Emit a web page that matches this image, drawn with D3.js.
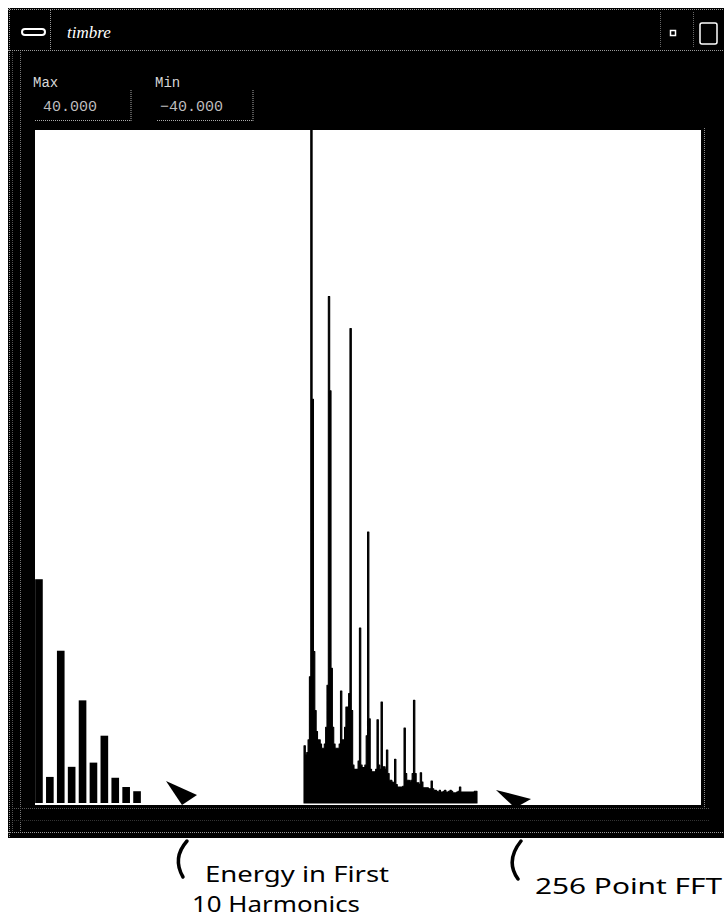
<!DOCTYPE html>
<html>
<head>
<meta charset="utf-8">
<script src="https://cdn.jsdelivr.net/npm/d3@7"></script>
<style>
  html, body { margin:0; padding:0; background:#fff; }
  svg { display:block; }
</style>
</head>
<body>
<svg id="chart" width="724" height="919"></svg>
<script>
// window title and range fields
var windowTitle = "timbre";
var rangeLabels = ["Max", "Min"];
var rangeValues = [40, -40];

// energy in the first 10 harmonics (dB)
var harmonics = [-13.4, -36.9, -21.9, -35.7, -27.8, -35.2, -32.0, -37.0, -38.1, -38.6];

// 256 point FFT, 128 magnitude bins (dB)
var fftBins = [
  -33.2, -34.3, -34.0, -32.5, -25.0, 45.0, 8.0, -22.0,
  -29.0, -31.5, -32.5, -32.5, -33.0, -33.5, -33.5, -33.0,
  -31.0, -26.0, 20.2, 9.0, -24.0, -31.0, -33.0, -33.5,
  -33.5, -33.5, -33.0, -26.7, -32.5, -32.5, -31.0, -28.6,
  -28.6, -27.0, 16.4, -29.0, -35.5, -36.0, -36.0, -36.0,
  -35.0, -19.2, -35.5, -35.8, -35.8, -35.5, -32.0, -7.8,
  -30.0, -36.0, -36.3, -36.3, -36.3, -36.0, -30.1, -35.5,
  -36.0, -28.0, -35.7, -35.7, -36.0, -33.7, -36.5, -37.3,
  -37.3, -37.5, -37.6, -34.8, -37.8, -38.1, -38.1, -38.1,
  -38.1, -38.0, -31.1, -36.5, -37.3, -37.3, -37.5, -37.3,
  -36.5, -27.8, -36.5, -37.6, -37.6, -37.8, -36.4, -37.5,
  -38.2, -38.2, -38.2, -38.2, -38.3, -38.3, -37.4, -38.3,
  -38.5, -38.5, -38.6, -38.7, -38.5, -38.7, -38.7, -38.6,
  -38.5, -38.7, -38.7, -38.6, -38.5, -38.6, -38.8, -38.8,
  -38.8, -38.7, -38.6, -38.1, -38.7, -38.7, -38.7, -38.7,
  -38.7, -38.7, -38.7, -38.7, -38.7, -38.7, -38.6, -38.6
];

// annotations under the window
var notes = [
  {lines: ["Energy in First", "10 Harmonics"]},
  {lines: ["256 Point FFT"]}
];

var svg = d3.select('#chart');

var win = {left:8, top:8, right:730, bottom:838};
var plot = {left:35, top:130, right:701, bottom:805};

// window frame
svg.append("rect")
    .attr("x", win.left).attr("y", win.top)
    .attr("width", win.right - win.left).attr("height", win.bottom - win.top)
    .attr("fill", "#000");

var dotted = function(x1, y1, x2, y2, col) {
    svg.append("line")
        .attr("x1", x1).attr("y1", y1).attr("x2", x2).attr("y2", y2)
        .attr("stroke", col || "#9a9a9a")
        .attr("stroke-width", 1)
        .attr("stroke-dasharray", "1,1");
};
dotted(win.left, 9.5, win.right, 9.5);
dotted(win.left, 50.5, win.right, 50.5);
dotted(9.5, win.top, 9.5, win.bottom);
dotted(12.5, 52, 12.5, 832, "#555");
dotted(20.5, 52, 20.5, 832, "#777");
dotted(win.left, 832.5, win.right, 832.5);
dotted(14, 808.5, 710, 808.5, "#555");
dotted(14, 820.5, 710, 820.5, "#333");
dotted(704.5, 128, 704.5, 808, "#888");
dotted(50.5, 10, 50.5, 50);
dotted(660.5, 12, 660.5, 48, "#666");
dotted(693.5, 12, 693.5, 48, "#666");

// title bar
svg.append("rect")
    .attr("x", 22).attr("y", 29).attr("width", 23).attr("height", 6)
    .attr("rx", 3)
    .attr("fill", "none").attr("stroke", "#fff").attr("stroke-width", 2);

svg.append("text")
    .attr("x", 67).attr("y", 38)
    .attr("fill", "#fff")
    .style("font-family", "'Liberation Serif', serif")
    .style("font-style", "italic")
    .style("font-size", "17px")
    .text(windowTitle);

svg.append("rect")
    .attr("x", 670.5).attr("y", 30.5).attr("width", 5).attr("height", 5)
    .attr("fill", "none").attr("stroke", "#fff").attr("stroke-width", 1.5);
svg.append("rect")
    .attr("x", 700).attr("y", 23).attr("width", 17).attr("height", 21)
    .attr("rx", 2)
    .attr("fill", "none").attr("stroke", "#fff").attr("stroke-width", 1.5);

// Max / Min fields
var fmt = d3.format(".3f");
var fieldX = [35, 157];
rangeLabels.forEach(function(lab, i) {
    svg.append("text")
        .attr("x", fieldX[i] - 2).attr("y", 87)
        .attr("fill", "#d8d8d8")
        .style("font-family", "'Liberation Mono', monospace")
        .style("font-size", "14px")
        .text(lab);
    dotted(fieldX[i] + 96, 90, fieldX[i] + 96, 121, "#aaa");
    dotted(fieldX[i], 120.5, fieldX[i] + 96, 120.5, "#aaa");
    svg.append("text")
        .attr("x", fieldX[i] + (i == 0 ? 8 : 3)).attr("y", 111)
        .attr("fill", "#bdbdbd")
        .style("font-family", "'Liberation Mono', monospace")
        .style("font-size", "15px")
        .text(fmt(rangeValues[i]));
});

// plot area
svg.append("rect")
    .attr("x", plot.left).attr("y", plot.top)
    .attr("width", plot.right - plot.left).attr("height", plot.bottom - plot.top)
    .attr("fill", "#fff");

svg.append("clipPath").attr("id", "clip")
    .append("rect")
    .attr("x", plot.left).attr("y", plot.top)
    .attr("width", plot.right - plot.left).attr("height", plot.bottom - plot.top);

var yScale = d3.scaleLinear()
    .domain([rangeValues[1], rangeValues[0]])
    .range([803, plot.top]);

var g = svg.append("g").attr("clip-path", "url(#clip)");

// harmonic bars
var hScale = d3.scaleBand()
    .domain(d3.range(harmonics.length))
    .range([33.5, 142.5])
    .paddingInner(0.3)
    .paddingOuter(0.15);

g.selectAll(".harm")
    .data(harmonics)
    .enter().append("rect")
    .attr("class", "harm")
    .attr("x", function(d, i) { return hScale(i); })
    .attr("width", hScale.bandwidth())
    .attr("y", function(d) { return yScale(d); })
    .attr("height", function(d) { return yScale(rangeValues[1]) - yScale(d); })
    .attr("fill", "#000");

// FFT spectrum
var fScale = d3.scaleLinear()
    .domain([0, fftBins.length])
    .range([304, 477]);

var fftPts = fftBins.map(function(v, i) { return [i, v]; });
fftPts.push([fftBins.length, fftBins[fftBins.length - 1]]);

var area = d3.area()
    .curve(d3.curveStepAfter)
    .x(function(d) { return fScale(d[0]); })
    .y0(yScale(rangeValues[1]))
    .y1(function(d) { return yScale(d[1]); });

g.append("path")
    .datum(fftPts)
    .attr("d", area)
    .attr("fill", "#000")
    .attr("stroke", "#000")
    .attr("stroke-width", 1.1)
    .attr("stroke-linejoin", "round");

// annotations: arrows and handwritten labels
svg.append("path")
    .attr("d", "M166,781 L197,795 L182,805 Z")
    .attr("fill", "#000");
svg.append("path")
    .attr("d", "M496,790 L531,799 L515,808 Z")
    .attr("fill", "#000");

svg.append("path")
    .attr("d", "M187,841 Q172,858 183,877")
    .attr("fill", "none").attr("stroke", "#000")
    .attr("stroke-width", 3.5).attr("stroke-linecap", "round");
svg.append("path")
    .attr("d", "M521,841 Q505,861 518,879")
    .attr("fill", "none").attr("stroke", "#000")
    .attr("stroke-width", 3.5).attr("stroke-linecap", "round");

var noteFont = "'Noto Sans', sans-serif";
svg.append("text")
    .attr("x", 205).attr("y", 882)
    .attr("textLength", 184).attr("lengthAdjust", "spacingAndGlyphs")
    .style("font-family", noteFont).style("font-size", "21px")
    .attr("fill", "#000")
    .text(notes[0].lines[0]);
svg.append("text")
    .attr("x", 192).attr("y", 912)
    .attr("textLength", 168).attr("lengthAdjust", "spacingAndGlyphs")
    .style("font-family", noteFont).style("font-size", "21px")
    .attr("fill", "#000")
    .text(notes[0].lines[1]);

svg.append("text")
    .attr("x", 535).attr("y", 894)
    .attr("textLength", 187).attr("lengthAdjust", "spacingAndGlyphs")
    .style("font-family", noteFont).style("font-size", "21px")
    .attr("fill", "#000")
    .text(notes[1].lines[0]);
</script>
</body>
</html>
